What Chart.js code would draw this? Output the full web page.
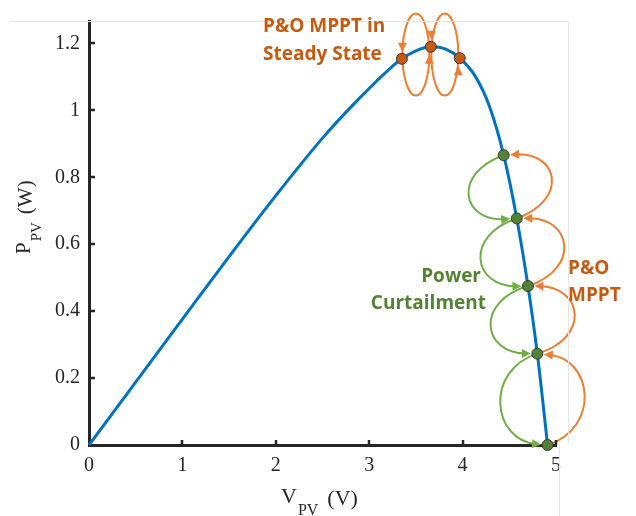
<!DOCTYPE html>
<html>
<head>
<meta charset="utf-8">
<title>P-V curve</title>
<script src="https://cdn.jsdelivr.net/npm/chart.js@4.4.1/dist/chart.umd.min.js"></script>
<style>
  html, body { margin: 0; padding: 0; background: #fff; }
  #wrap { width: 636px; height: 516px; position: relative; }
</style>
</head>
<body>
<div id="wrap"><canvas id="pv-curve"></canvas></div>
<script>
// PV curve
const curveV = [0, 0.5, 1.0, 1.5, 2.0, 2.5, 2.86, 3.21, 3.35, 3.5, 3.66, 3.82, 3.97, 4.14, 4.29, 4.44, 4.58, 4.70, 4.80, 4.91];
const curveP = [0, 0.188, 0.376, 0.563, 0.745, 0.917, 1.026, 1.122, 1.154, 1.178, 1.19, 1.183, 1.156, 1.1, 1.01, 0.866, 0.677, 0.475, 0.273, 0];

// operating points
const mpptV = [3.35, 3.66, 3.97];
const mpptP = [1.154, 1.19, 1.156];
const curtV = [4.44, 4.58, 4.70, 4.80, 4.91];
const curtP = [0.866, 0.677, 0.475, 0.273, 0];

const xTicks = [0, 1, 2, 3, 4, 5];
const yTicks = [0, 0.2, 0.4, 0.6, 0.8, 1, 1.2];

const ORANGE_ARC = '#ED7D31';
const ORANGE_TXT = '#C55A11';
const GREEN_ARC = '#70AD47';
const GREEN_TXT = '#548235';
const AXIS = '#262626';
const SERIF = '"Liberation Serif", "Times New Roman", serif';
const SANS = '"Open Sans", Lato, sans-serif';

function toPixels(chart, xs, ys) {
  const { x, y } = chart.scales;
  return xs.map((v, i) => ({ x: x.getPixelForValue(v), y: y.getPixelForValue(ys[i]) }));
}

function arrowHead(ctx, tipX, tipY, dirX, dirY, color) {
  const len = 9, half = 4.5;
  const bx = tipX - dirX * len, by = tipY - dirY * len;
  ctx.beginPath();
  ctx.moveTo(tipX, tipY);
  ctx.lineTo(bx - dirY * half, by + dirX * half);
  ctx.lineTo(bx + dirY * half, by - dirX * half);
  ctx.closePath();
  ctx.fillStyle = color;
  ctx.fill();
}

// arc from a to b bulging to the left of travel, arrow at b
function sideArc(ctx, a, b, bulge, color) {
  const dx = b.x - a.x, dy = b.y - a.y, L = Math.hypot(dx, dy);
  const ux = dx / L, uy = dy / L;
  const nx = -uy, ny = ux;
  const k = bulge * 4 / 3, c = 0.12 * L;
  const c1 = { x: a.x + nx * k + ux * c, y: a.y + ny * k + uy * c };
  const c2 = { x: b.x + nx * k - ux * c, y: b.y + ny * k - uy * c };
  let tx = b.x - c2.x, ty = b.y - c2.y;
  const tl = Math.hypot(tx, ty);
  tx /= tl; ty /= tl;
  const tip = { x: b.x - tx * 6.5, y: b.y - ty * 6.5 };
  ctx.beginPath();
  ctx.moveTo(a.x, a.y);
  ctx.bezierCurveTo(c1.x, c1.y, c2.x, c2.y, tip.x - tx * 5, tip.y - ty * 5);
  ctx.strokeStyle = color;
  ctx.lineWidth = 2;
  ctx.stroke();
  arrowHead(ctx, tip.x, tip.y, tx, ty, color);
}

const loopsPlugin = {
  id: 'loops',
  beforeDatasetsDraw(chart) {
    const ctx = chart.ctx;
    ctx.save();
    const top = toPixels(chart, mpptV, mpptP);
    const cy = top.reduce((s, p) => s + p.y, 0) / top.length;
    for (let i = 0; i < top.length - 1; i++) {
      const A = top[i], B = top[i + 1];
      const xL = A.x + 0.5, xR = B.x - 1.5;
      ctx.beginPath();
      ctx.ellipse((xL + xR) / 2, cy, (xR - xL) / 2, 41, 0, 0, Math.PI * 2);
      ctx.strokeStyle = ORANGE_ARC;
      ctx.lineWidth = 2;
      ctx.stroke();
      arrowHead(ctx, xL, A.y - 7, 0, 1, ORANGE_ARC);
      arrowHead(ctx, xR, B.y + 8, 0, -1, ORANGE_ARC);
    }
    const side = toPixels(chart, curtV, curtP);
    for (let i = 0; i < side.length - 1; i++) {
      sideArc(ctx, side[i], side[i + 1], 41, GREEN_ARC);
      sideArc(ctx, side[i + 1], side[i], 41, ORANGE_ARC);
    }
    ctx.restore();
  }
};

const decorPlugin = {
  id: 'decor',
  afterDraw(chart) {
    const ctx = chart.ctx;
    const { left, right, top, bottom } = chart.chartArea;
    const { x, y } = chart.scales;
    ctx.save();

    // faint frame left over from the screenshot
    ctx.strokeStyle = '#e6e6e6';
    ctx.lineWidth = 1;
    ctx.beginPath();
    ctx.moveTo(10, top + 0.5);
    ctx.lineTo(right + 12.5, top + 0.5);
    ctx.lineTo(right + 12.5, bottom - 2);
    ctx.moveTo(right + 3.5, bottom);
    ctx.lineTo(right + 3.5, chart.height);
    ctx.stroke();

    // inward ticks
    ctx.strokeStyle = AXIS;
    ctx.lineWidth = 2.5;
    ctx.beginPath();
    xTicks.forEach(v => {
      if (v === 0) return;
      const px = Math.round(x.getPixelForValue(v));
      ctx.moveTo(px, bottom);
      ctx.lineTo(px, bottom - 5);
    });
    yTicks.forEach(v => {
      if (v === 0) return;
      const py = Math.round(y.getPixelForValue(v));
      ctx.moveTo(left, py);
      ctx.lineTo(left + 6, py);
    });
    ctx.stroke();

    // axis titles with subscripts
    ctx.fillStyle = AXIS;
    ctx.textBaseline = 'alphabetic';
    ctx.textAlign = 'left';
    let cx = 281;
    ctx.font = '22px ' + SERIF;
    ctx.fillText('V', cx, 503);
    cx += ctx.measureText('V').width + 1;
    ctx.font = '16px ' + SERIF;
    ctx.fillText('PV', cx, 515);
    cx += ctx.measureText('PV').width + 9;
    ctx.font = '22px ' + SERIF;
    ctx.fillText('(V)', cx, 505);

    ctx.save();
    ctx.translate(30, 254);
    ctx.rotate(-Math.PI / 2);
    let ry = 0;
    ctx.font = '21px ' + SERIF;
    ctx.fillText('P', ry, 0);
    ry += ctx.measureText('P').width + 1;
    ctx.font = '15px ' + SERIF;
    ctx.fillText('PV', ry, 11);
    ry += ctx.measureText('PV').width + 8;
    ctx.font = '21px ' + SERIF;
    ctx.fillText('(W)', ry, 2);
    ctx.restore();

    // annotation text
    ctx.font = 'bold 19px ' + SANS;
    ctx.fillStyle = ORANGE_TXT;
    ctx.textAlign = 'left';
    ctx.fillText('P&O MPPT in', 263, 32);
    ctx.fillText('Steady State', 263, 60);
    ctx.fillText('P&O', 568, 274);
    ctx.fillText('MPPT', 568, 301);
    ctx.fillStyle = GREEN_TXT;
    ctx.textAlign = 'right';
    ctx.fillText('Power', 481, 282);
    ctx.fillText('Curtailment', 486, 309);

    ctx.restore();
  }
};

new Chart(document.getElementById('pv-curve'), {
  type: 'scatter',
  data: {
    datasets: [
      {
        label: 'MPPT',
        data: mpptV.map((v, i) => ({ x: v, y: mpptP[i] })),
        backgroundColor: ORANGE_TXT,
        borderColor: '#3a3a3a',
        borderWidth: 1,
        pointRadius: 5.5,
        clip: false,
        order: 0
      },
      {
        label: 'Curtailment',
        data: curtV.map((v, i) => ({ x: v, y: curtP[i] })),
        backgroundColor: GREEN_TXT,
        borderColor: '#3a3a3a',
        borderWidth: 1,
        pointRadius: 5.5,
        clip: false,
        order: 1
      },
      {
        label: 'P-V',
        data: curveV.map((v, i) => ({ x: v, y: curveP[i] })),
        showLine: true,
        borderColor: '#0072BD',
        borderWidth: 3,
        pointRadius: 0,
        cubicInterpolationMode: 'monotone',
        clip: false,
        order: 2
      }
    ]
  },
  options: {
    responsive: true,
    maintainAspectRatio: false,
    animation: false,
    events: [],
    layout: { padding: { left: 0, top: 18, right: 80, bottom: 0 } },
    plugins: {
      legend: { display: false },
      tooltip: { enabled: false }
    },
    scales: {
      x: {
        type: 'linear',
        min: 0,
        max: 5,
        afterBuildTicks: s => { s.ticks = xTicks.map(v => ({ value: v })); },
        afterFit: s => { s.height = 71; },
        grid: { display: false, drawTicks: false },
        border: { display: true, width: 3, color: AXIS },
        ticks: {
          color: AXIS,
          padding: 9,
          font: { family: SERIF, size: 20 },
          callback: v => String(v)
        }
      },
      y: {
        type: 'linear',
        min: 0,
        max: 1.267,
        afterBuildTicks: s => { s.ticks = yTicks.map(v => ({ value: v })); },
        afterFit: s => { s.width = 89; },
        grid: { display: false, drawTicks: false },
        border: { display: true, width: 3, color: AXIS },
        ticks: {
          color: AXIS,
          padding: 9,
          font: { family: SERIF, size: 20 },
          callback: v => String(v)
        }
      }
    }
  },
  plugins: [loopsPlugin, decorPlugin]
});
</script>
</body>
</html>
